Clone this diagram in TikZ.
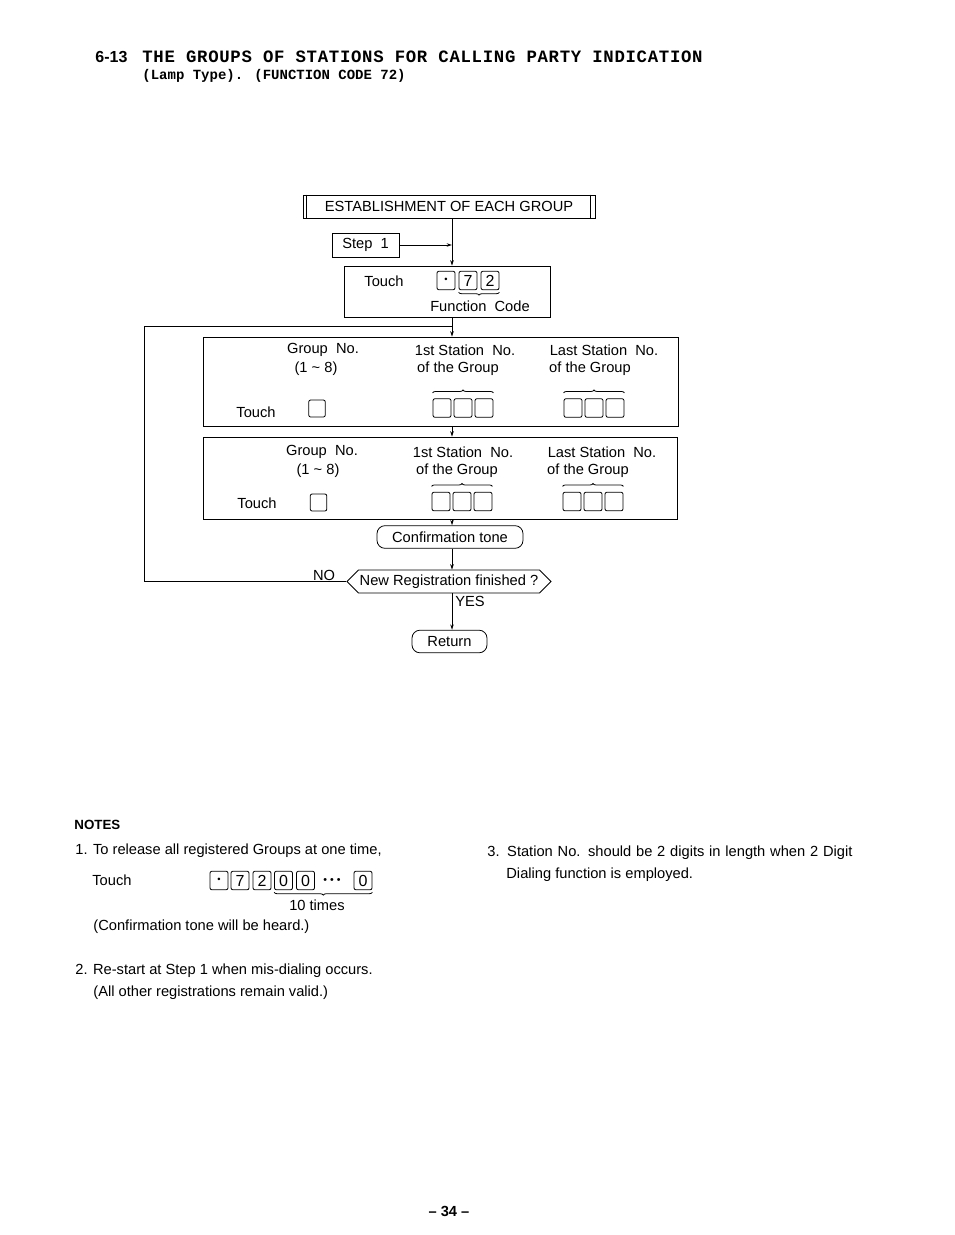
\documentclass[tikz,border=0pt]{standalone}
\usepackage{fontspec}
\setmainfont{Liberation Sans}
\newfontfamily\headmono{Liberation Mono}
\usetikzlibrary{arrows.meta,shapes.symbols,decorations.pathreplacing}

\begin{document}
\begin{tikzpicture}[x=0.75pt,y=-0.75pt,line width=0.6pt,
    every node/.style={inner sep=0pt, font=\fontsize{11}{13}\selectfont},
    box/.style={draw, inner sep=0pt},
    keybox/.style={draw, rounded corners=1.5pt, minimum width=13.5pt, minimum height=14pt, font=\fontsize{12}{12}\selectfont},
    smallkey/.style={keybox, minimum width=12.5pt, minimum height=12.75pt},
    endbox/.style={draw, rounded corners=6pt, minimum height=17pt},
    flow/.style={-{Stealth[length=4pt,width=2.6pt]}},
    overbrace/.style={decorate, decoration={brace, amplitude=2.2pt}},
    underbrace/.style={decorate, decoration={brace, amplitude=2.2pt, mirror}}]
   \useasboundingbox (0,0) rectangle (954,1235);

   % heading
   \node[anchor=west, font=\fontsize{12}{14}\selectfont\bfseries] (num) at (95,57) {6-13};
   \node[anchor=west, font=\fontsize{13}{15}\selectfont\headmono\bfseries\addfontfeatures{LetterSpace=4}] (head1) at (142,57)
      {THE GROUPS OF STATIONS FOR CALLING PARTY INDICATION};
   \node[anchor=west, font=\fontsize{10.5}{12}\selectfont\headmono\bfseries] (head2) at (142,76)
      {(Lamp Type). (FUNCTION CODE 72)};

   % flow chart
   \coordinate (spine) at (452,0);
   \coordinate (back) at (144,326);
   \node[box, minimum width=219pt, minimum height=17.25pt] (est) at (449,206.5) {ESTABLISHMENT OF EACH GROUP};
   \draw ([xshift=3.2pt]est.north west) -- ([xshift=3.2pt]est.south west);
   \draw ([xshift=-3.5pt]est.north east) -- ([xshift=-3.5pt]est.south east);
   \node[box, minimum width=50.25pt, minimum height=18pt] (step) at (365.5,245) {Step\ \ 1};

   \node[box, minimum width=154.5pt, minimum height=38.25pt] (touch) at (447,291.5) {};
   \node (ftouch) at (384,281) {Touch};
   \foreach \x/\d [count=\i] in {446/{\scriptsize\textbullet}, 468/7, 490/2}
      \node[keybox] (fk\i) at (\x,280.5) {\d};
   \draw[underbrace] ([yshift=-1.5pt]fk2.south west) -- ([yshift=-1.5pt]fk3.south east);
   \node (fcode) at (480,306) {Function\ \ Code};

   \node[box, minimum width=356.25pt, minimum height=66.75pt] (grp1) at (440.5,381.5) {};
   \node (g1a) at (323,350) {Group\ \ No.};
   \node (g1b) at (316,369) {(1 \textasciitilde\ 8)};
   \node (g1c) at (465,350) {1st Station\ \ No.};
   \node (g1d) at (458,369) {of the Group};
   \node (g1e) at (604,350) {Last Station\ \ No.};
   \node (g1f) at (590,369) {of the Group};
   \node (g1t) at (256,412) {Touch};
   \node[smallkey] (g1k) at (317,408.5) {};
   \foreach \x [count=\i] in {442,463,484}
      \node[keybox] (g1s\i) at (\x,408) {};
   \foreach \x [count=\i] in {573,594,615}
      \node[keybox] (g1l\i) at (\x,408) {};
   \draw[overbrace] ([yshift=4pt]g1s1.north west) -- ([yshift=4pt]g1s3.north east);
   \draw[overbrace] ([yshift=4pt]g1l1.north west) -- ([yshift=4pt]g1l3.north east);

   \node[box, minimum width=355.5pt, minimum height=61.5pt] (grp2) at (440,478) {};
   \node (g2a) at (322,452) {Group\ \ No.};
   \node (g2b) at (318,471) {(1 \textasciitilde\ 8)};
   \node (g2c) at (463,452) {1st Station\ \ No.};
   \node (g2d) at (457,471) {of the Group};
   \node (g2e) at (602,452) {Last Station\ \ No.};
   \node (g2f) at (588,471) {of the Group};
   \node (g2t) at (257,503) {Touch};
   \node[smallkey] (g2k) at (318.5,502.5) {};
   \foreach \x [count=\i] in {441,462,483}
      \node[keybox] (g2s\i) at (\x,501.5) {};
   \foreach \x [count=\i] in {572,593,614}
      \node[keybox] (g2l\i) at (\x,501.5) {};
   \draw[overbrace] ([yshift=4pt]g2s1.north west) -- ([yshift=4pt]g2s3.north east);
   \draw[overbrace] ([yshift=4pt]g2l1.north west) -- ([yshift=4pt]g2l3.north east);

   \node[endbox, minimum width=109.5pt] (conf) at (450,537) {Confirmation tone};
   \node[draw, signal, signal to=west and east, minimum width=153pt, minimum height=17.25pt] (ask) at (449,581.5)
      {New Registration finished ?};
   \node[endbox, minimum width=56.25pt] (ret) at (449.5,641.5) {Return};
   \node (no) at (324,575) {NO};
   \node[anchor=west] (yes) at (455,601) {YES};

   \draw[flow] (est.south -| spine) -- (touch.north -| spine);
   \draw[flow] (step.east) -- (step.east -| spine);
   \draw[flow] (touch.south -| spine) -- (grp1.north -| spine);
   \draw[flow] (grp1.south -| spine) -- (grp2.north -| spine);
   \draw[flow] (grp2.south -| spine) -- (conf.north -| spine);
   \draw[flow] (conf.south -| spine) -- (ask.north -| spine);
   \draw[flow] (ask.south -| spine) -- (ret.north -| spine);
   \draw (ask.west) -- (ask.west -| back) -- (back) -- (back -| spine);

   % notes
   \node[anchor=west, font=\fontsize{10}{12}\selectfont\bfseries] (notes) at (74,825) {NOTES};
   \node[anchor=west] (n1) at (75,851) {1. To release all registered Groups at one time,};
   \node[anchor=west] (n1t) at (92,880) {Touch};
   \foreach \x/\d [count=\i] in {219/{\scriptsize\textbullet}, 240/7, 262/2, 283.5/0, 305.5/0, 363/0}
      \node[keybox] (nk\i) at (\x,880.5) {\d};
   \node[font=\fontsize{8}{8}\selectfont] (dots) at (332,881) {\textbullet\ \textbullet\ \textbullet};
   \draw[underbrace] ([yshift=-1.5pt]nk4.south west) -- ([yshift=-1.5pt]nk6.south east);
   \node (ten) at (317,905) {10 times};
   \node[anchor=west] (n1c) at (93,927) {(Confirmation tone will be heard.)};
   \node[anchor=west] (n2) at (75,971) {2. Re-start at Step 1 when mis-dialing occurs.};
   \node[anchor=west] (n2c) at (93,993) {(All other registrations remain valid.)};
   \node[anchor=west] (n3) at (487,853) {\makebox[273.75pt][s]{3. Station No. should be 2 digits in length when 2 Digit}};
   \node[anchor=west] (n3c) at (506,875) {Dialing function is employed.};

   \node[font=\fontsize{11}{13}\selectfont\bfseries] (page) at (449,1211) {-- 34 --};
\end{tikzpicture}
\end{document}
